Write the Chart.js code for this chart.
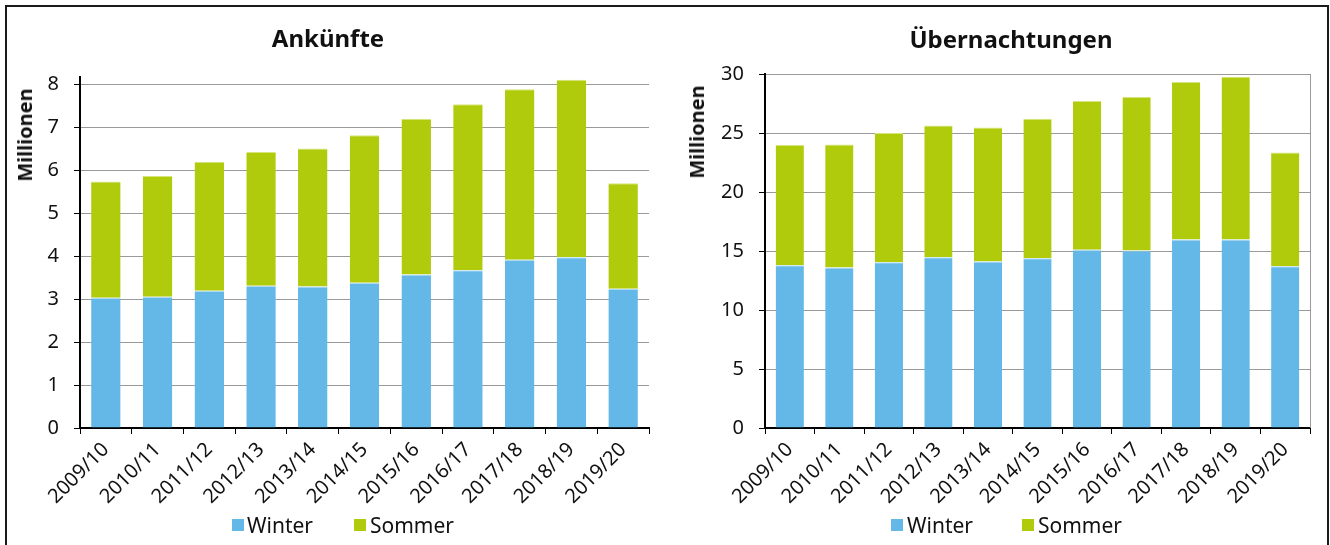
<!DOCTYPE html>
<html><head><meta charset="utf-8">
<script src="https://cdn.jsdelivr.net/npm/chart.js@4.4.0/dist/chart.umd.min.js"></script>
<style>
html,body{margin:0;padding:0;background:#fff;}
body{width:1330px;height:545px;position:relative;overflow:hidden;font-family:"Noto Sans",sans-serif;color:#111;}
.frame{position:absolute;left:5px;top:5px;width:1324px;height:600px;border:2px solid #1a1a1a;box-sizing:border-box;}
.panel{position:absolute;top:0;width:665px;height:545px;}
.panel canvas{position:absolute;left:0;top:0;}
.title{position:absolute;font-weight:bold;font-size:24px;line-height:24px;transform:translateX(-50%);white-space:nowrap;}
.ytitle{position:absolute;font-weight:bold;font-size:20px;line-height:22px;transform:translate(-50%,-50%) rotate(-90deg);white-space:nowrap;}
.lg{position:absolute;font-size:21px;line-height:22px;white-space:nowrap;}
.box{position:absolute;width:12px;height:12px;}
</style>
</head><body>
<div class="frame"></div>
<div class="panel" style="left:0"><canvas id="c1" width="665" height="545"></canvas></div>
<div class="panel" style="left:665px"><canvas id="c2" width="665" height="545"></canvas></div>

<div class="title" style="left:328px;top:26px">Ankünfte</div>
<div class="title" style="left:1011px;top:27px">Übernachtungen</div>
<div class="ytitle" style="left:25px;top:135px">Millionen</div>
<div class="ytitle" style="left:697px;top:132px">Millionen</div>

<div class="box" style="left:232px;top:519px;background:#63B8E8"></div>
<div class="lg" style="left:247px;top:514px">Winter</div>
<div class="box" style="left:354px;top:519px;background:#B0CB0B"></div>
<div class="lg" style="left:370px;top:514px">Sommer</div>

<div class="box" style="left:891px;top:519px;background:#63B8E8"></div>
<div class="lg" style="left:907px;top:514px">Winter</div>
<div class="box" style="left:1022px;top:519px;background:#B0CB0B"></div>
<div class="lg" style="left:1038px;top:514px">Sommer</div>

<script>
const categories = ['2009/10','2010/11','2011/12','2012/13','2013/14','2014/15','2015/16','2016/17','2017/18','2018/19','2019/20'];
const arrivalsWinter = [3.03,3.05,3.19,3.31,3.29,3.38,3.57,3.67,3.91,3.97,3.24];
const arrivalsSummer = [2.70,2.81,3.00,3.11,3.21,3.43,3.62,3.86,3.97,4.13,2.45];
const nightsWinter = [13.80,13.60,14.05,14.48,14.11,14.39,15.10,15.04,15.97,15.97,13.71];
const nightsSummer = [10.18,10.43,10.95,11.16,11.36,11.82,12.61,13.01,13.35,13.80,9.64];
const arrivalsTicks = [0,1,2,3,4,5,6,7,8];
const nightsTicks = [0,5,10,15,20,25,30];

const BLUE = '#63B8E8';
const GREEN = '#B0CB0B';
const FONT = {family:'"Noto Sans", sans-serif', size:20};

const plotBorder = {
  id:'plotBorder',
  afterDraw(chart, args, opts){
    if(!opts.right) return;
    const {ctx, chartArea:a} = chart;
    ctx.save();
    ctx.strokeStyle = '#9a9a9a';
    ctx.lineWidth = 1;
    ctx.beginPath();
    ctx.moveTo(Math.round(a.right)+0.5, a.top);
    ctx.lineTo(Math.round(a.right)+0.5, a.bottom);
    ctx.stroke();
    ctx.restore();
  }
};

function makeChart(id, winter, summer, yTicks, yMax, area){
  return new Chart(document.getElementById(id), {
    type:'bar',
    data:{
      labels:categories,
      datasets:[
        {label:'Winter', data:winter, backgroundColor:BLUE, borderColor:'#b9def4', borderWidth:{top:1,left:0,right:0,bottom:0}, borderSkipped:false},
        {label:'Sommer', data:summer, backgroundColor:GREEN, borderColor:'#d6e57a', borderWidth:{top:1,left:0,right:0,bottom:0}, borderSkipped:false}
      ]
    },
    options:{
      responsive:false, animation:false, devicePixelRatio:1,
      layout:{padding:{left:8, right:area.padRight, top:area.top, bottom:0}},
      datasets:{bar:{barPercentage:0.57, categoryPercentage:1}},
      plugins:{legend:{display:false}, tooltip:{enabled:false}, title:{display:false}, plotBorder:{right:area.rightBorder}},
      scales:{
        x:{
          stacked:true, offset:true,
          grid:{offset:true, drawOnChartArea:false, color:'#000', tickColor:'#000', tickLength:6, lineWidth:1},
          border:{color:'#000', width:2},
          ticks:{minRotation:45, maxRotation:45, font:FONT, color:'#111', padding:4, autoSkip:false},
          afterFit(s){ s.height = 545 - area.bottom; }
        },
        y:{
          stacked:true, min:0, max:yMax,
          afterBuildTicks(s){ s.ticks = yTicks.map(v=>({value:v})); },
          grid:{color:'#9a9a9a', tickColor:'#000', tickLength:6, lineWidth:1},
          border:{color:'#000', width:2},
          ticks:{font:FONT, color:'#111', padding:15},
          afterFit(s){ s.width = area.left - 8; }
        }
      }
    },
    plugins:[plotBorder]
  });
}

makeChart('c1', arrivalsWinter, arrivalsSummer, arrivalsTicks, 8.163, {left:80, padRight:16, top:77, bottom:428, rightBorder:false});
makeChart('c2', nightsWinter, nightsSummer, nightsTicks, 30, {left:100, padRight:20, top:74, bottom:428, rightBorder:true});
</script>
</body></html>
